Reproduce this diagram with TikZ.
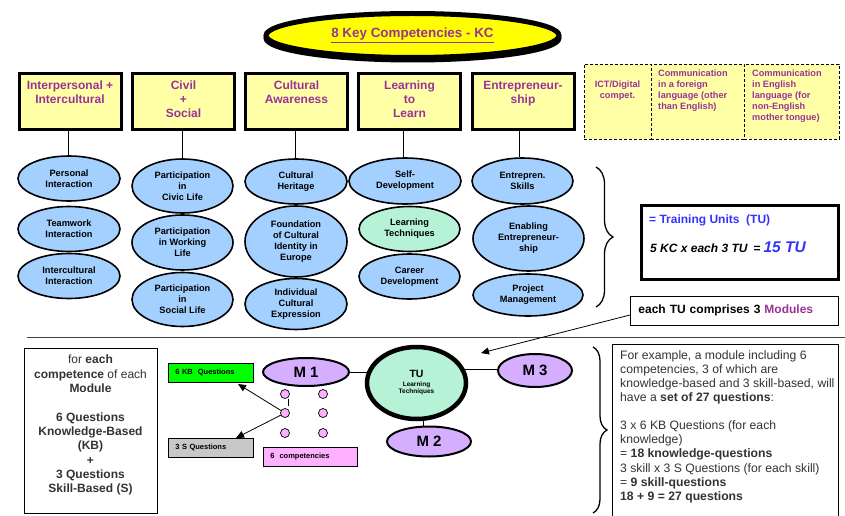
\documentclass[tikz,border=0pt]{standalone}
\usepackage{fontspec}
\setmainfont{Liberation Sans}
\usetikzlibrary{shapes.geometric,arrows.meta,decorations.pathreplacing}
\pgfdeclarelayer{bg}
\pgfsetlayers{bg,main}
\definecolor{kcpurple}{HTML}{993399}
\definecolor{boxyellow}{HTML}{FFFFA6}
\definecolor{titleyellow}{HTML}{FFFF00}
\definecolor{ellblue}{HTML}{A3D0FF}
\definecolor{ellgreen}{HTML}{B6F2D6}
\definecolor{mpurple}{HTML}{D5AEFF}
\definecolor{cpink}{HTML}{FFB0FF}
\definecolor{kbgreen}{HTML}{00FF00}
\definecolor{sgray}{HTML}{C8C8C8}
\definecolor{tublue}{HTML}{3333FF}
\definecolor{textgray}{HTML}{333333}
\begin{document}
\begin{tikzpicture}[x=1pt,y=-1pt,
 kcbox/.style={draw, line width=3pt, fill=boxyellow, minimum width=102pt, minimum height=56pt, inner sep=0pt},
 kctext/.style={anchor=north, inner sep=0pt, align=center, text=kcpurple, font=\fontsize{12}{14}\selectfont\bfseries},
 dbox/.style={draw, dash pattern=on 3pt off 2pt, line width=0.8pt, fill=boxyellow, minimum height=75pt, inner sep=0pt},
 dtext/.style={inner sep=0pt, text=kcpurple, font=\fontsize{9.2}{11}\selectfont\bfseries},
 ellnode/.style={ellipse, draw, line width=1.6pt, fill=ellblue, inner sep=0pt, align=center, font=\fontsize{9.2}{11}\selectfont\bfseries},
 mnode/.style={ellipse, draw, line width=2pt, fill=mpurple, inner sep=0pt, font=\fontsize{15}{16}\selectfont\bfseries},
 dot/.style={circle, draw, line width=0.7pt, fill=cpink, minimum size=9pt, inner sep=0pt},
 smallbox/.style={draw, line width=0.7pt, minimum height=19pt, anchor=west, inner xsep=7pt, inner ysep=0pt, align=left, font=\fontsize{7.5}{9}\selectfont\bfseries},
 conn/.style={line width=0.8pt},
 arr/.style={line width=0.8pt, -{Triangle[length=8pt,width=7pt]}},
 brc/.style={decorate, line width=1.3pt}
]
\useasboundingbox (0,0) rectangle (845,516);
\begin{pgfonlayer}{bg}
\fill[white] (0,0) rectangle (845,516);
\end{pgfonlayer}

% title
\node[ellipse, draw, line width=5pt, fill=titleyellow, minimum width=293pt, minimum height=44pt, inner sep=0pt,
      preaction={draw=black, line width=5pt, transform canvas={yshift=-2.5pt}},
      text=kcpurple, font=\fontsize{13.4}{15}\selectfont\bfseries] (title) at (412.5,35.5) {\underline{8 Key Competencies - KC}};

% top boxes
\node[kcbox] (b1) at (70,101.5) {};
\node[kcbox] (b2) at (183.5,101.5) {};
\node[kcbox] (b3) at (296.5,101.5) {};
\node[kcbox] (b4) at (409.5,101.5) {};
\node[kcbox] (b5) at (523,101.5) {};
\node[kctext] (t1) at (70,81) {Interpersonal +\\Intercultural};
\node[kctext] (t2) at (183.5,81) {Civil\\+\\Social};
\node[kctext] (t3) at (296.5,81) {Cultural\\Awareness};
\node[kctext] (t4) at (409.5,81) {Learning\\to\\Learn};
\node[kctext] (t5) at (523,81) {Entrepreneur-\\ship};

% dashed boxes
\node[dbox, minimum width=67pt] (d1) at (617.5,101.5) {};
\node[dbox, minimum width=93pt] (d2) at (697.5,101.5) {};
\node[dbox, minimum width=95pt] (d3) at (791.5,101.5) {};
\node[dtext, anchor=north, align=center] (dt1) at (617.5,81) {ICT/Digital\\compet.};
\node[dtext, anchor=north west, align=left] (dt2) at (658,70) {Communication\\in a foreign\\language (other\\than English)};
\node[dtext, anchor=north west, align=left] (dt3) at (752,70) {Communication\\in English\\language (for\\non-English\\mother tongue)};

% ellipses
\node[ellnode, minimum width=102pt, minimum height=45pt] (e11) at (69,178.5) {Personal\\Interaction};
\node[ellnode, minimum width=102pt, minimum height=45pt] (e12) at (69,229) {Teamwork\\Interaction};
\node[ellnode, minimum width=102pt, minimum height=45pt] (e13) at (69,276) {Intercultural\\Interaction};
\node[ellnode, minimum width=101pt, minimum height=54pt] (e21) at (182.5,186) {Participation\\in\\Civic Life};
\node[ellnode, minimum width=101pt, minimum height=55pt] (e22) at (182.5,242.5) {Participation\\in Working\\Life};
\node[ellnode, minimum width=101pt, minimum height=54pt] (e23) at (182.5,299.5) {Participation\\in\\Social Life};
\node[ellnode, minimum width=102pt, minimum height=45pt] (e31) at (296,181.5) {Cultural\\Heritage};
\node[ellnode, minimum width=102pt, minimum height=71pt] (e32) at (296,241.5) {Foundation\\of Cultural\\Identity in\\Europe};
\node[ellnode, minimum width=102pt, minimum height=51pt] (e33) at (296,304) {Individual\\Cultural\\Expression};
\node[ellnode, minimum width=112pt, minimum height=46pt] (e41) at (405,181) {Self-\\Development};
\node[ellnode, minimum width=101pt, minimum height=45pt, fill=ellgreen] (e42) at (409.5,229) {Learning\\Techniques};
\node[ellnode, minimum width=101pt, minimum height=45pt] (e43) at (409.5,276.5) {Career\\Development};
\node[ellnode, minimum width=101pt, minimum height=46pt] (e51) at (522.5,181) {Entrepren.\\Skills};
\node[ellnode, minimum width=111pt, minimum height=65pt] (e52) at (528.5,238.5) {Enabling\\Entrepreneur-\\ship};
\node[ellnode, minimum width=110pt, minimum height=42pt] (e53) at (528,295) {Project\\Management};

\draw[conn] ([xshift=-1pt]e11.north) -- ([xshift=-1pt]e11.north |- b1.south);
\draw[conn] (e21.north) -- (e21.north |- b2.south);
\draw[conn] ([xshift=-1pt]e31.north) -- ([xshift=-1pt]e31.north |- b3.south);
\draw[conn] ([xshift=-2pt]e41.north) -- ([xshift=-2pt]e41.north |- b4.south);
\draw[conn] ([xshift=-3pt]e51.north) -- ([xshift=-3pt]e51.north |- b5.south);

% top brace
\coordinate (br1a) at (596,167);
\coordinate (br1b) at (596,307);
\draw[brc, decoration={brace, amplitude=17pt}] (br1a) -- (br1b);

% TU box
\node[draw, line width=3pt, fill=white, minimum width=197pt, minimum height=74pt, inner sep=0pt] (tubox) at (740,242.5) {};
\node[anchor=base west, inner sep=0pt, text=tublue, font=\fontsize{12}{14}\selectfont\bfseries] (tut1) at (649,223) {= Training Units\ \ (TU)};
\node[anchor=base west, inner sep=0pt, font=\fontsize{12}{14}\selectfont\bfseries] (tut2) at (650,252) {\itshape 5 KC x each 3 TU\hspace{6pt}\upshape =\hspace{3pt}{\color{tublue}\fontsize{15.5}{18}\selectfont\itshape 15 TU}};

% each TU comprises
\node[draw, line width=0.8pt, anchor=west, text width=192pt, inner xsep=8pt, minimum height=29pt, align=left, font=\fontsize{12}{14}\selectfont\bfseries] (tucomp) at (630,310.5) {each TU comprises 3 {\color{kcpurple}Modules}};

% separator
\coordinate (sepL) at (27,337.5);
\coordinate (sepR) at (845,337.5);
\draw[line width=0.8pt, black!75] (sepL) -- (sepR);

% bottom left box
\node[draw, line width=0.8pt, minimum width=133pt, minimum height=165pt, inner sep=0pt] (qbox) at (90.5,430.5) {};
\node[anchor=north, inner sep=0pt, align=center, text=textgray, font=\fontsize{12}{14.33}\selectfont] (qtext) at (90.5,355) {for \textbf{each}\\\textbf{competence} of each\\\textbf{Module}\\[14.33pt]\textbf{6 Questions}\\\textbf{Knowledge-Based}\\\textbf{(KB)}\\\textbf{+}\\\textbf{3 Questions}\\\textbf{Skill-Based (S)}};

% small boxes
\node[smallbox, fill=kbgreen, text width=71pt] (kb) at (168,372.5) {6 KB~ Questions};
\node[smallbox, fill=sgray, text width=71pt] (sq) at (168,447.5) {3 S Questions};
\node[smallbox, fill=cpink, text width=80pt] (comp) at (263,457) {6~ competencies};

% TU ellipse and modules
\node[ellipse, draw, line width=4.5pt, fill=ellgreen, minimum width=99pt, minimum height=72pt, inner sep=0pt, align=center, font=\bfseries\fontsize{6.5}{10}\selectfont] (TU) at (416.5,383)
 {{\fontsize{10.5}{11}\selectfont TU}\\[-1.5pt]Learning\\[-2.5pt]Techniques};
\node[mnode, minimum width=86pt, minimum height=28pt] (M1) at (306,372) {M 1};
\node[mnode, minimum width=74pt, minimum height=33pt] (M3) at (535,370.5) {M 3};
\node[mnode, minimum width=84pt, minimum height=30pt] (M2) at (429,441.5) {M 2};
\begin{pgfonlayer}{bg}
\draw[conn] (M1.east) -- (M1.east -| TU.center);
\draw[conn] ([yshift=1.5pt]M3.west) -- ([yshift=1.5pt]M3.west -| TU.center);
\draw[conn] ([xshift=-6pt]M2.north) -- ([xshift=-6pt]M2.north |- TU.center);
\end{pgfonlayer}

% dots
\node[dot] (c11) at (285,394) {};
\node[dot] (c12) at (323,394) {};
\node[dot] (c21) at (285,413) {};
\node[dot] (c22) at (323,413) {};
\node[dot] (c31) at (285,433) {};
\node[dot] (c32) at (323,433) {};
\draw[line width=0.7pt] ([xshift=3pt]c11.south) -- ([xshift=3pt,yshift=2pt]c11.south |- c21.north);
\coordinate (kbtip) at (238,384);
\coordinate (sqtip) at (236,438);
\draw[arr] (c21) -- (kbtip);
\draw[arr] (c21) -- (sqtip);

% arrow to TU
\coordinate (tutip) at (481,353);
\draw[arr] ([yshift=-4.5pt]tucomp.west) -- (tutip);

% bottom brace
\coordinate (br2a) at (593,347);
\coordinate (br2b) at (593,513);
\draw[brc, decoration={brace, amplitude=14pt}] (br2a) -- (br2b);

% example box
\node[draw, line width=0.8pt, minimum width=226pt, minimum height=186pt, inner sep=0pt] (exbox) at (725,437) {};
\node[anchor=north west, inner sep=0pt, align=left, text=textgray, font=\fontsize{12.2}{14.3}\selectfont] (extext) at (620,350)
 {For example, a module including 6\\competencies, 3 of which are\\knowledge-based and 3 skill-based, will\\have a \textbf{set of 27 questions}:\\[13pt]3 x 6 KB Questions (for each\\knowledge)\\= \textbf{18 knowledge-questions}\\3 skill x 3 S Questions (for each skill)\\= \textbf{9 skill-questions}\\\textbf{18 + 9 = 27 questions}};
\end{tikzpicture}
\end{document}
